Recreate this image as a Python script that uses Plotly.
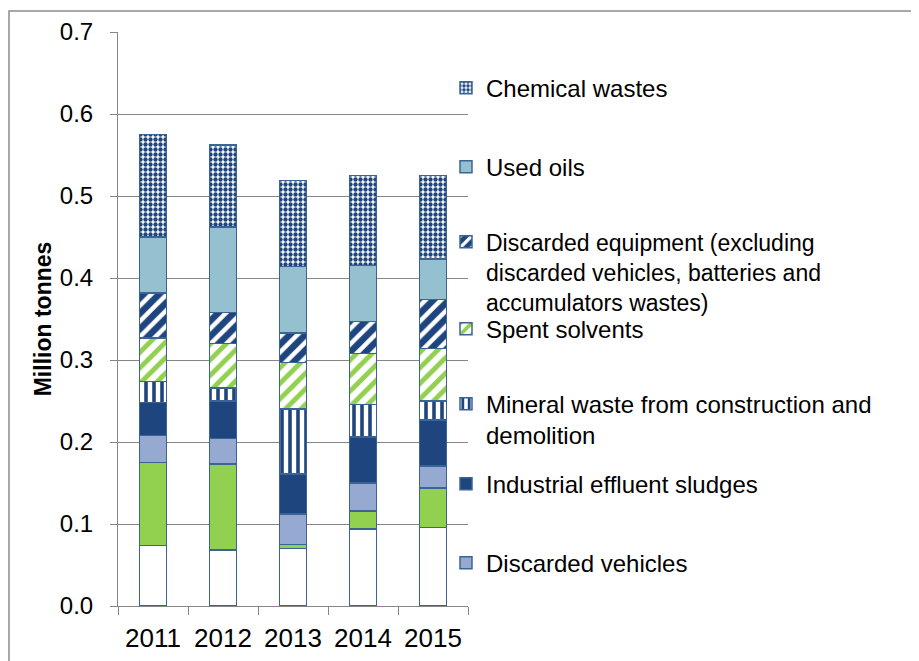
import plotly.graph_objects as go

years = ["2011", "2012", "2013", "2014", "2015"]

household = [0.074, 0.068, 0.070, 0.094, 0.096]
animal_vegetal = [0.101, 0.105, 0.005, 0.022, 0.048]
discarded_vehicles = [0.033, 0.031, 0.037, 0.034, 0.027]
industrial_sludges = [0.040, 0.046, 0.049, 0.056, 0.056]
mineral_waste = [0.026, 0.016, 0.079, 0.040, 0.023]
spent_solvents = [0.053, 0.054, 0.057, 0.062, 0.064]
discarded_equipment = [0.055, 0.038, 0.036, 0.039, 0.060]
used_oils = [0.068, 0.104, 0.081, 0.068, 0.049]
chemical_wastes = [0.125, 0.100, 0.105, 0.110, 0.102]

y_ticks = [0.0, 0.1, 0.2, 0.3, 0.4, 0.5, 0.6, 0.7]

DARK = "#1F457E"
EDGE = "#3B6496"
FONT = "Liberation Sans, Arial, sans-serif"

series = [
    # name, values, color, pattern, legend index (None = hidden)
    ("Household and similar wastes", household, "#FFFFFF", None, None),
    ("Animal and vegetal wastes", animal_vegetal, "#92D050", None, None),
    ("Discarded vehicles", discarded_vehicles, "#95A9D1", None, 7),
    ("Industrial effluent sludges", industrial_sludges, DARK, None, 6),
    ("Mineral waste from construction and<br>demolition", mineral_waste, "#FFFFFF",
     dict(shape="|", fgcolor=DARK, bgcolor="#FFFFFF", size=8, solidity=0.45, fillmode="replace"), 5),
    ("Spent solvents", spent_solvents, "#FFFFFF",
     dict(shape="/", fgcolor="#92D050", bgcolor="#FFFFFF", size=11, solidity=0.45, fillmode="replace"), 4),
    ("Discarded equipment (excluding<br>discarded vehicles, batteries and<br>accumulators wastes)",
     discarded_equipment, DARK,
     dict(shape="/", fgcolor="#FFFFFF", bgcolor=DARK, size=11, solidity=0.4, fillmode="replace"), 3),
    ("Used oils", used_oils, "#95C0CF", None, 2),
    ("Chemical wastes", chemical_wastes, "#FFFFFF",
     dict(shape=".", fgcolor=DARK, bgcolor="#FFFFFF", size=5, solidity=0.6, fillmode="replace"), 1),
]

fig = go.Figure()
for name, vals, color, pattern, leg in series:
    marker = dict(color=color, line=dict(color=EDGE, width=1.5))
    if pattern is not None:
        marker["pattern"] = pattern
    kw = {}
    if leg is None:
        kw["showlegend"] = False
    else:
        kw["legend"] = "legend" if leg == 1 else f"legend{leg}"
    fig.add_trace(go.Bar(x=years, y=vals, name=name, marker=marker, **kw))

# figure is placed 8px from the page corner; pixel positions below are figure-relative
OFF = 8
W, H = 919 - OFF, 661 - OFF
L, R, T, B = 118 - OFF, 468 - OFF, 32 - OFF, 606 - OFF
pw, ph = R - L, B - T

legend_first_line_y = [88, 167, 242, 329, 404, 484, 563]
legend_font_sizes = [24, 24, 23, 24, 24, 24, 24]
legend_text_x = 486
legend_layouts = {}
for i, (ypx, fs) in enumerate(zip(legend_first_line_y, legend_font_sizes), start=1):
    key = "legend" if i == 1 else f"legend{i}"
    legend_layouts[key] = dict(
        x=(legend_text_x - OFF - 40 - L) / pw,
        y=(B - (ypx - OFF - 21 - (fs - 22) * 0.65)) / ph,
        xanchor="left", yanchor="top",
        bgcolor="rgba(0,0,0,0)", borderwidth=0,
        font=dict(family=FONT, size=fs, color="#000000"),
        valign="top", itemclick=False, itemdoubleclick=False,
    )

fig.update_layout(
    width=W, height=H,
    margin=dict(l=L, r=W - R, t=T, b=H - B, autoexpand=False),
    barmode="stack",
    bargap=0.62,
    plot_bgcolor="#FFFFFF",
    paper_bgcolor="#FFFFFF",
    font=dict(family=FONT, size=24, color="#000000"),
    xaxis=dict(
        type="category",
        showline=True, linecolor="#868686", linewidth=1,
        ticks="outside", ticklen=8, tickcolor="#868686", tickson="boundaries",
        ticklabelstandoff=9,
        tickfont=dict(family=FONT, size=26, color="#000000"),
        showgrid=False,
    ),
    yaxis=dict(
        range=[0, 0.7],
        tickvals=y_ticks, tickformat=".1f",
        showline=True, linecolor="#868686", linewidth=1,
        ticks="outside", ticklen=7, tickcolor="#868686",
        ticklabelstandoff=12,
        tickfont=dict(family=FONT, size=24, color="#000000"),
        showgrid=True, gridcolor="#868686", gridwidth=1,
        zeroline=False,
        title=dict(text="Million tonnes", font=dict(family=FONT, size=23, color="#000000", weight="bold"),
                   standoff=1),
    ),
    shapes=[dict(
        type="rect", xref="paper", yref="paper",
        x0=(9 - OFF - L) / pw, x1=(940 - L) / pw,
        y0=(B - 700) / ph, y1=(B - (11 - OFF)) / ph,
        line=dict(color="#8C8C8C", width=1.5), fillcolor="rgba(0,0,0,0)", layer="below",
    )],
    **legend_layouts,
)

fig.write_html("out.html")
